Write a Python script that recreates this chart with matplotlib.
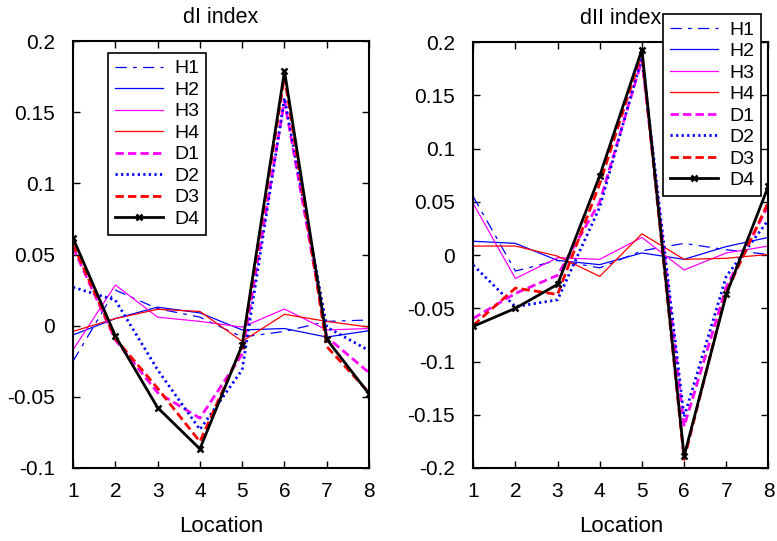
import numpy as np
import matplotlib
matplotlib.use("Agg")
import matplotlib.pyplot as plt

plt.rcParams["font.family"] = ["Liberation Sans", "DejaVu Sans"]
plt.rcParams["font.size"] = 14

loc = np.arange(1, 9)
names = ["H1", "H2", "H3", "H4", "D1", "D2", "D3", "D4"]

# dI index
dI = {
    "H1": [-0.025, 0.025, 0.012, 0.006, -0.008, -0.004, 0.003, 0.004],
    "H2": [-0.0065, 0.005, 0.013, 0.009, -0.003, -0.002, -0.008, -0.0035],
    "H3": [-0.017, 0.0286, 0.006, 0.003, -0.001, 0.0117, -0.003, -0.002],
    "H4": [-0.004, 0.005, 0.0115, 0.010, -0.011, 0.008, 0.003, -0.001],
    "D1": [0.055, -0.010, -0.047, -0.065, -0.020, 0.158, -0.008, -0.033],
    "D2": [0.027, 0.018, -0.031, -0.073, -0.031, 0.160, -0.001, -0.0175],
    "D3": [0.057, -0.009, -0.044, -0.0815, -0.015, 0.175, -0.0147, -0.047],
    "D4": [0.0616, -0.0072, -0.0576, -0.0866, -0.0136, 0.179, -0.0096, -0.048],
}

# dII index
dII = {
    "H1": [0.055, -0.015, -0.005, -0.012, 0.004, 0.011, 0.005, 0.0006],
    "H2": [0.013, 0.011, -0.005, -0.009, 0.002, -0.004, 0.008, 0.0166],
    "H3": [0.0485, -0.022, -0.0025, -0.004, 0.0166, -0.014, 0.002, 0.0085],
    "H4": [0.0085, 0.0085, -0.001, -0.020, 0.020, -0.004, -0.003, 0.0006],
    "D1": [-0.0595, -0.036, -0.019, 0.050, 0.183, -0.161, -0.030, 0.047],
    "D2": [-0.0094, -0.0485, -0.042, 0.045, 0.186, -0.152, -0.020, 0.033],
    "D3": [-0.066, -0.031, -0.037, 0.067, 0.190, -0.192, -0.035, 0.050],
    "D4": [-0.067, -0.050, -0.0275, 0.0745, 0.193, -0.189, -0.037, 0.065],
}

styles = {
    "H1": dict(color="blue", lw=0.9, dashes=(9, 5, 3, 5)),
    "H2": dict(color="blue", lw=0.9, ls="-"),
    "H3": dict(color="magenta", lw=0.9, ls="-"),
    "H4": dict(color="red", lw=0.9, ls="-"),
    "D1": dict(color="magenta", lw=2.0, ls=(0, (3, 1.5))),
    "D2": dict(color="blue", lw=2.0, ls=(0, (0.8, 1.2))),
    "D3": dict(color="red", lw=2.0, ls=(0, (3, 1.5))),
    "D4": dict(color="black", lw=2.0, ls="-", marker="x", ms=4, mew=1.8),
}

fig = plt.figure(figsize=(7.77, 5.41), dpi=100)
ax1 = fig.add_axes([0.094, 0.135, 0.381, 0.789])
ax2 = fig.add_axes([0.609, 0.135, 0.380, 0.787])


def draw(ax, data, title, ylim, yticks, ylabels, anchor, loc_str):
    for n in names:
        ax.plot(loc, data[n], label=n, **styles[n])
    ax.set_xlim(1, 8)
    ax.set_ylim(*ylim)
    ax.set_xticks(loc)
    ax.set_yticks(yticks)
    ax.set_yticklabels(ylabels)
    ax.tick_params(direction="in", top=True, right=True, length=5, width=1,
                   labelsize=15)
    ax.tick_params(axis="y", pad=13)
    ax.tick_params(axis="x", pad=10)
    for s in ax.spines.values():
        s.set_linewidth(1.5)
    ax.set_title(title, fontsize=15.5, pad=13)
    ax.set_xlabel("Location", fontsize=16, labelpad=11)
    leg = ax.legend(loc=loc_str, bbox_to_anchor=anchor, fancybox=False,
                    edgecolor="black", framealpha=1, handlelength=2.5,
                    labelspacing=0.2, borderaxespad=0, fontsize=14,
                    borderpad=0.35, handletextpad=0.55)
    leg.get_frame().set_linewidth(1.2)
    leg.set_zorder(5)


draw(ax1, dI, "dI index", (-0.1, 0.2),
     [-0.1, -0.05, 0, 0.05, 0.1, 0.15, 0.2],
     ["-0.1", "-0.05", "0", "0.05", "0.1", "0.15", "0.2"],
     (0.118, 0.972), "upper left")
draw(ax2, dII, "dII index", (-0.2, 0.2),
     [-0.2, -0.15, -0.1, -0.05, 0, 0.05, 0.1, 0.15, 0.2],
     ["-0.2", "-0.15", "-0.1", "-0.05", "0", "0.05", "0.1", "0.15", "0.2"],
     (0.975, 1.066), "upper right")

fig.savefig("out.png", dpi=100)
